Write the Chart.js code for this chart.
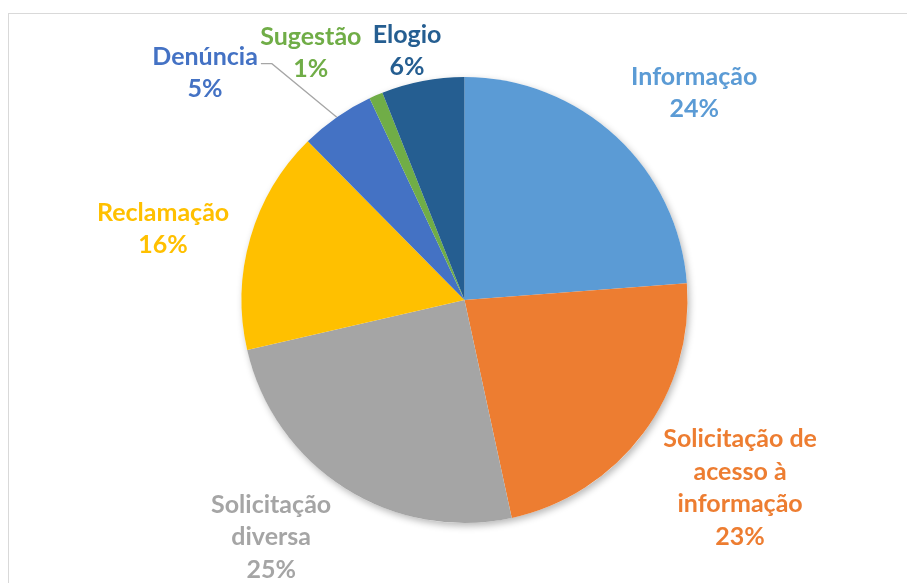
<!DOCTYPE html>
<html>
<head>
<meta charset="utf-8">
<script src="https://cdn.jsdelivr.net/npm/chart.js@4/dist/chart.umd.min.js"></script>
<style>
  html, body { margin: 0; padding: 0; background: #fff; overflow: hidden; }
  #wrap { position: relative; width: 907px; height: 583px; }
  #frame { position: absolute; left: 8px; top: 13px; width: 1000px; height: 700px; border: 1px solid #d9d9d9; }
  canvas { position: absolute; left: 0; top: 0; }
</style>
</head>
<body>
<div id="wrap">
  <div id="frame"></div>
  <canvas id="pie" width="907" height="583"></canvas>
</div>
<script>
const categories = ['Informação', 'Solicitação de acesso à informação', 'Solicitação diversa', 'Reclamação', 'Denúncia', 'Sugestão', 'Elogio'];
const shares = [23.8, 22.8, 24.8, 16.2, 5.4, 1.0, 6.0];
const labelLines = [
  ['Informação'],
  ['Solicitação de', 'acesso à', 'informação'],
  ['Solicitação', 'diversa'],
  ['Reclamação'],
  ['Denúncia'],
  ['Sugestão'],
  ['Elogio']
];
const colors = ['#5B9BD5', '#ED7D31', '#A5A5A5', '#FFC000', '#4472C4', '#70AD47', '#255E91'];

// where each label block sits: bearing from 12 o'clock (deg), distance in radii
const labelSpots = [[48.0, 1.386], [124.3, 1.496], [219.2, 1.372], [283.3, 1.389], [311.2, 1.546], [328.1, 1.304], [347.0, 1.146]];

const FONT = 'bold 25px Lato';
const LINE_H = 32.5;

// soft shadow under the whole pie
const pieShadow = {
  id: 'pieShadow',
  beforeDatasetsDraw(chart) {
    const arc = chart.getDatasetMeta(0).data[0];
    if (!arc) return;
    const ctx = chart.ctx;
    ctx.save();
    ctx.shadowColor = 'rgba(0,0,0,0.28)';
    ctx.shadowBlur = 7;
    ctx.shadowOffsetX = 2;
    ctx.shadowOffsetY = 3;
    ctx.fillStyle = '#fff';
    ctx.beginPath();
    ctx.arc(arc.x, arc.y, arc.outerRadius, 0, Math.PI * 2);
    ctx.fill();
    ctx.restore();
  }
};

const outsideLabels = {
  id: 'outsideLabels',
  afterDatasetsDraw(chart) {
    const ctx = chart.ctx;
    const arcs = chart.getDatasetMeta(0).data;
    const total = shares.reduce((a, b) => a + b, 0);
    ctx.save();
    ctx.font = FONT;
    ctx.textAlign = 'center';
    ctx.textBaseline = 'middle';
    arcs.forEach((arc, i) => {
      const r = arc.outerRadius;
      const b = labelSpots[i][0] * Math.PI / 180;
      const cx = arc.x + Math.sin(b) * r * labelSpots[i][1];
      const cy = arc.y - Math.cos(b) * r * labelSpots[i][1];
      const lines = labelLines[i].concat([Math.round(shares[i] / total * 100) + '%']);
      const top = cy - (lines.length - 1) * LINE_H / 2;
      ctx.fillStyle = colors[i];
      lines.forEach((t, j) => ctx.fillText(t, cx, top + j * LINE_H));

      // leader line for the small Denúncia slice
      if (categories[i] === 'Denúncia') {
        const w = ctx.measureText(lines[0]).width;
        const sx = cx + w / 2 + 3;
        const sy = top + 7;
        const mid = (arc.startAngle + arc.endAngle) / 2;
        ctx.strokeStyle = '#A6A6A6';
        ctx.lineWidth = 1.3;
        ctx.beginPath();
        ctx.moveTo(sx, sy);
        ctx.lineTo(sx + 11, sy);
        ctx.lineTo(arc.x + Math.cos(mid) * r, arc.y + Math.sin(mid) * r);
        ctx.stroke();
      }
    });
    ctx.restore();
  }
};

new Chart(document.getElementById('pie'), {
  type: 'pie',
  data: {
    labels: categories,
    datasets: [{
      data: shares,
      backgroundColor: colors,
      borderWidth: 0
    }]
  },
  options: {
    responsive: false,
    animation: false,
    layout: { padding: { left: 241.5, right: 219.5, top: 77, bottom: 60 } },
    plugins: {
      legend: { display: false },
      tooltip: { enabled: false }
    }
  },
  plugins: [pieShadow, outsideLabels]
});
</script>
</body>
</html>
